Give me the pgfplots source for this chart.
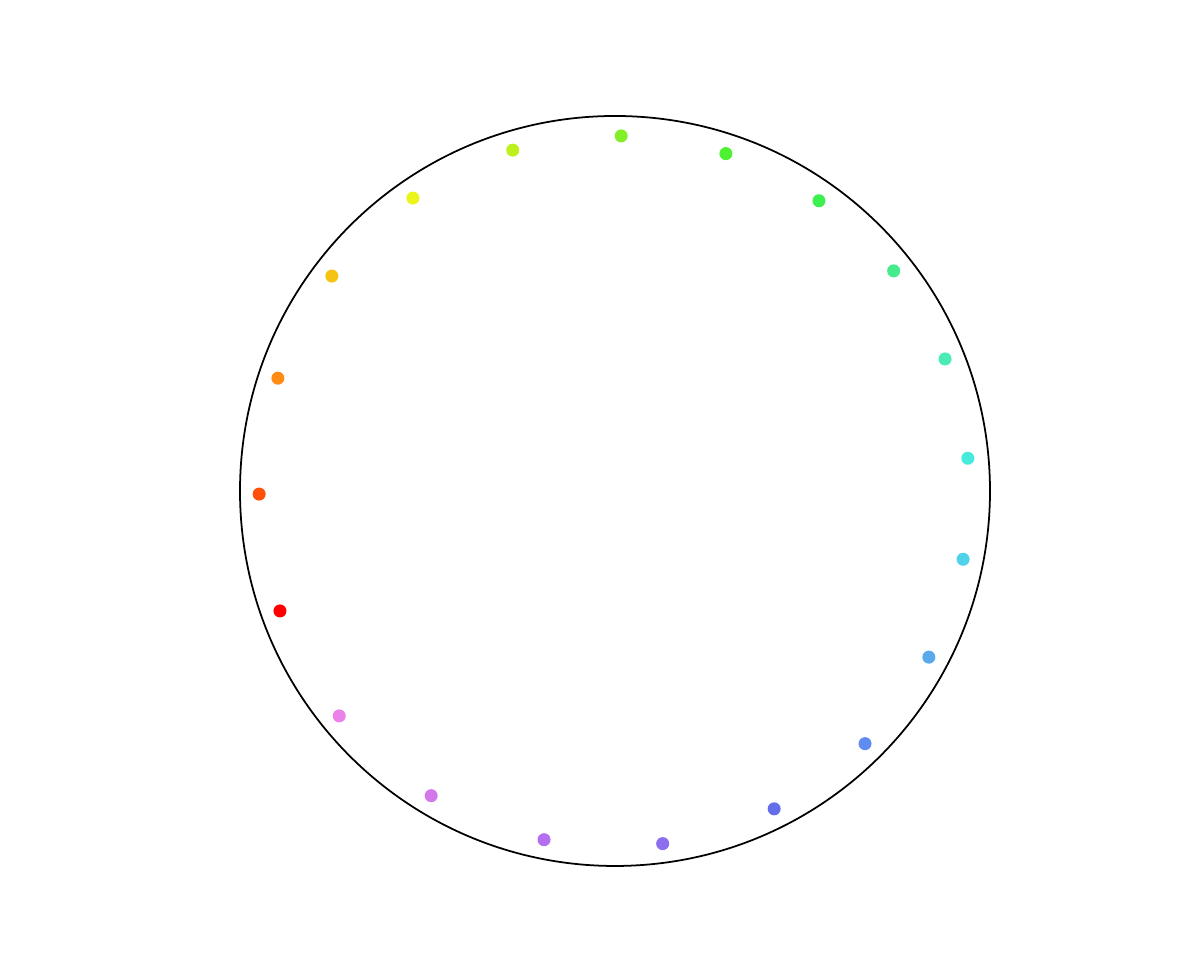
\documentclass[border=0pt]{standalone}
\usepackage{pgfplots}
\pgfplotsset{compat=1.18}
\usepgfplotslibrary{polar}
\definecolor{c1}{RGB}{255,0,0}
\definecolor{c2}{RGB}{255,80,10}
\definecolor{c3}{RGB}{255,140,20}
\definecolor{c4}{RGB}{245,195,20}
\definecolor{c5}{RGB}{235,245,25}
\definecolor{c6}{RGB}{190,240,30}
\definecolor{c7}{RGB}{130,240,40}
\definecolor{c8}{RGB}{80,240,50}
\definecolor{c9}{RGB}{60,240,80}
\definecolor{c10}{RGB}{70,235,140}
\definecolor{c11}{RGB}{75,235,180}
\definecolor{c12}{RGB}{70,235,220}
\definecolor{c13}{RGB}{80,210,235}
\definecolor{c14}{RGB}{90,170,235}
\definecolor{c15}{RGB}{95,140,240}
\definecolor{c16}{RGB}{100,110,235}
\definecolor{c17}{RGB}{140,110,240}
\definecolor{c18}{RGB}{180,110,240}
\definecolor{c19}{RGB}{210,120,235}
\definecolor{c20}{RGB}{235,130,235}
\begin{document}
\begin{tikzpicture}
\path[use as bounding box] (0,0) rectangle (12cm,9.74cm);
\begin{polaraxis}[
  at={(6.15cm,4.83cm)}, anchor=center,
  width=7.5cm, height=7.5cm, scale only axis,
  xtick=\empty, ytick=\empty,
  grid=none,
  ymin=0, ymax=1,
  clip=false,
  x axis line style={black, line width=0.5pt},
  y axis line style={draw=none},
]
\pgfplotsset{every axis plot/.append style={only marks, mark=*, mark size=1.65pt}}
\addplot[c1, mark options={fill=c1, draw=c1}] coordinates {(199.7,0.949)};
\addplot[c2, mark options={fill=c2, draw=c2}] coordinates {(180.5,0.949)};
\addplot[c3, mark options={fill=c3, draw=c3}] coordinates {(161.5,0.948)};
\addplot[c4, mark options={fill=c4, draw=c4}] coordinates {(142.8,0.948)};
\addplot[c5, mark options={fill=c5, draw=c5}] coordinates {(124.6,0.949)};
\addplot[c6, mark options={fill=c6, draw=c6}] coordinates {(106.7,0.949)};
\addplot[c7, mark options={fill=c7, draw=c7}] coordinates {(89.0,0.947)};
\addplot[c8, mark options={fill=c8, draw=c8}] coordinates {(71.8,0.947)};
\addplot[c9, mark options={fill=c9, draw=c9}] coordinates {(54.9,0.946)};
\addplot[c10, mark options={fill=c10, draw=c10}] coordinates {(38.3,0.947)};
\addplot[c11, mark options={fill=c11, draw=c11}] coordinates {(21.8,0.948)};
\addplot[c12, mark options={fill=c12, draw=c12}] coordinates {(5.3,0.945)};
\addplot[c13, mark options={fill=c13, draw=c13}] coordinates {(-11.1,0.946)};
\addplot[c14, mark options={fill=c14, draw=c14}] coordinates {(-27.9,0.947)};
\addplot[c15, mark options={fill=c15, draw=c15}] coordinates {(-45.3,0.948)};
\addplot[c16, mark options={fill=c16, draw=c16}] coordinates {(-63.4,0.948)};
\addplot[c17, mark options={fill=c17, draw=c17}] coordinates {(-82.3,0.949)};
\addplot[c18, mark options={fill=c18, draw=c18}] coordinates {(-101.5,0.949)};
\addplot[c19, mark options={fill=c19, draw=c19}] coordinates {(-121.1,0.949)};
\addplot[c20, mark options={fill=c20, draw=c20}] coordinates {(-140.8,0.949)};
\end{polaraxis}
\end{tikzpicture}
\end{document}
